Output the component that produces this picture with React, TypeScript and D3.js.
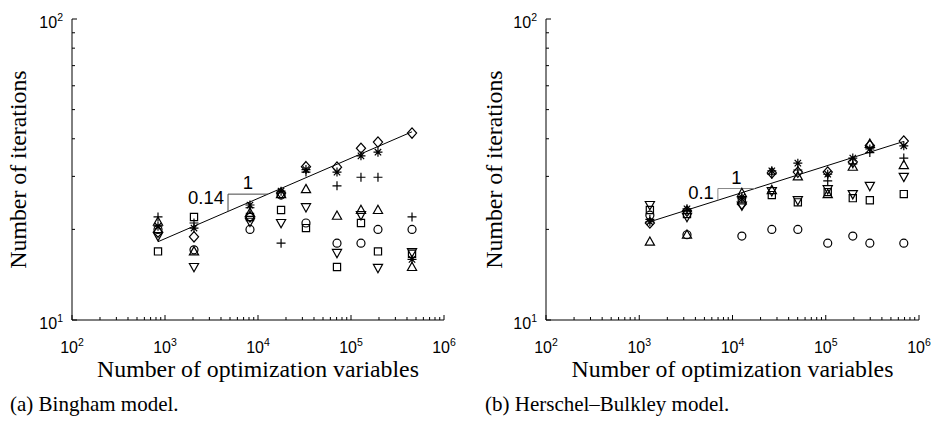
import React from 'react';
import * as d3 from 'd3';

// ---------- data ----------
const leftN = [841, 2050, 8200, 17700, 32800, 70700, 128000, 195000, 453000];
const leftPlus = [22.0, 21.0, 23.6, 18.0, 31.0, 27.9, 29.8, 29.8, 22.0];
const leftTriUp = [21.2, 16.9, 22.7, 26.2, 27.2, 22.2, 23.2, 23.2, 15.0];
const leftStar = [20.5, 20.2, 24.1, 26.8, 31.6, 31.0, 35.1, 36.1, 15.9];
const leftCircle = [20.0, 17.1, 20.0, 26.0, 21.0, 18.0, 18.0, 20.0, 20.0];
const leftDiamond = [19.6, 18.9, 22.0, 26.4, 32.3, 32.2, 37.2, 39.0, 41.8];
const leftTriDown = [19.0, 15.0, 21.2, 21.0, 23.7, 16.7, 22.3, 14.9, 16.8];
const leftSquare = [16.9, 22.0, 22.0, 23.2, 20.2, 15.0, 21.0, 16.9, 16.6];

const rightN = [1300, 3250, 12600, 26400, 50200, 105000, 195000, 297000, 687000];
const rightTriDown = [24.1, 22.0, 24.0, 26.8, 25.0, 27.2, 26.2, 27.9, 29.9];
const rightSquare = [23.2, 22.5, 25.0, 26.0, 24.6, 26.6, 25.4, 25.0, 26.2];
const rightCircle = [22.3, 19.2, 19.0, 20.0, 20.0, 18.0, 19.0, 18.0, 18.0];
const rightPlus = [21.6, 23.0, 25.4, 30.5, 31.5, 29.0, 33.0, 36.0, 34.5];
const rightStar = [21.2, 23.4, 25.6, 31.3, 33.2, 30.5, 34.5, 37.0, 37.9];
const rightDiamond = [21.0, 23.0, 24.3, 30.8, 31.0, 31.0, 33.5, 38.0, 39.3];
const rightTriUp = [18.2, 19.2, 26.4, 27.0, 30.0, 26.2, 32.3, 38.5, 32.7];

const leftFitN = [841, 453000];
const leftFitV = [18.2, 42.2];
const rightFitN = [1300, 687000];
const rightFitV = [21.2, 39.2];
const leftSlopeN = [4760, 12800];
const rightSlopeN = [6970, 17400];
const leftSlopeLabel = '0.14';
const rightSlopeLabel = '0.1';

const xTickExps = [2, 3, 4, 5, 6];
const yTickExps = [1, 2];
const yLabel = 'Number of iterations';
const xLabel = 'Number of optimization variables';
const leftCaption = '(a) Bingham model.';
const rightCaption = '(b) Herschel\u2013Bulkley model.';

// ---------- helpers ----------
const SANS = '"Liberation Sans", Arial, Helvetica, sans-serif';
const SERIF = '"Liberation Serif", "Times New Roman", Times, serif';

type Kind = 'circle' | 'square' | 'diamond' | 'triUp' | 'triDown' | 'plus' | 'star';

function markerPath(kind: Kind, x: number, y: number): string {
  const p = d3.path();
  if (kind === 'circle') {
    p.moveTo(x + 4, y);
    p.arc(x, y, 4, 0, Math.PI * 2);
  } else if (kind === 'square') {
    p.rect(x - 3.6, y - 3.6, 7.2, 7.2);
  } else if (kind === 'diamond') {
    p.moveTo(x, y - 5.2); p.lineTo(x + 4.6, y); p.lineTo(x, y + 5.2); p.lineTo(x - 4.6, y); p.closePath();
  } else if (kind === 'triUp') {
    p.moveTo(x, y - 4.8); p.lineTo(x + 4.6, y + 3.5); p.lineTo(x - 4.6, y + 3.5); p.closePath();
  } else if (kind === 'triDown') {
    p.moveTo(x, y + 4.8); p.lineTo(x + 4.6, y - 3.5); p.lineTo(x - 4.6, y - 3.5); p.closePath();
  } else if (kind === 'plus') {
    p.moveTo(x - 4.5, y); p.lineTo(x + 4.5, y); p.moveTo(x, y - 4.5); p.lineTo(x, y + 4.5);
  } else {
    const r = 4.5, d = 3.2;
    p.moveTo(x - r, y); p.lineTo(x + r, y); p.moveTo(x, y - r); p.lineTo(x, y + r);
    p.moveTo(x - d, y - d); p.lineTo(x + d, y + d); p.moveTo(x - d, y + d); p.lineTo(x + d, y - d);
  }
  return p.toString();
}

interface Series { kind: Kind; values: number[] }

interface PanelProps {
  xRange: [number, number];
  yRange: [number, number];
  ns: number[];
  series: Series[];
  fitN: number[];
  fitV: number[];
  slopeN: number[];
  slopeLabel: string;
  slopeColor: string;
  yLabelX: number;
  caption: string;
  captionX: number;
}

function Panel(props: PanelProps) {
  const { xRange, yRange, ns, series, fitN, fitV, slopeN, slopeLabel, slopeColor, yLabelX, caption, captionX } = props;
  const x = d3.scaleLog().domain([1e2, 1e6]).range(xRange);
  const y = d3.scaleLog().domain([10, 100]).range(yRange);
  const p = Math.log(fitV[1] / fitV[0]) / Math.log(fitN[1] / fitN[0]);
  const fit = (n: number) => fitV[0] * Math.pow(n / fitN[0], p);

  const xMinor: number[] = [];
  for (let e = 2; e < 6; e++) for (let k = 2; k <= 9; k++) xMinor.push(k * Math.pow(10, e));
  const yMinor: number[] = [];
  for (let k = 2; k <= 9; k++) yMinor.push(k * 10);

  const x0 = xRange[0], x1 = xRange[1], yb = yRange[0], yt = yRange[1];
  const hx0 = x(slopeN[0]), hx1 = x(slopeN[1]);
  const hy = y(fit(slopeN[1]));
  const vy = y(fit(slopeN[0]));
  const midX = (x0 + x1) / 2;

  return (
    <g>
      {/* axes */}
      <line x1={x0} y1={yt} x2={x0} y2={yb} stroke="#000" strokeWidth={1} />
      <line x1={x0} y1={yb} x2={x1} y2={yb} stroke="#000" strokeWidth={1} />
      {xTickExps.map(e => (
        <line key={'xt' + e} x1={x(Math.pow(10, e))} x2={x(Math.pow(10, e))} y1={yb} y2={yb - 5} stroke="#000" />
      ))}
      {xMinor.map(v => (
        <line key={'xm' + v} x1={x(v)} x2={x(v)} y1={yb} y2={yb - 3} stroke="#000" />
      ))}
      {yTickExps.map(e => (
        <line key={'yt' + e} x1={x0} x2={x0 + 5} y1={y(Math.pow(10, e))} y2={y(Math.pow(10, e))} stroke="#000" />
      ))}
      {yMinor.map(v => (
        <line key={'ym' + v} x1={x0} x2={x0 + 3} y1={y(v)} y2={y(v)} stroke="#000" />
      ))}
      {/* tick labels */}
      {xTickExps.map(e => (
        <text key={'xl' + e} x={x(Math.pow(10, e))} y={yb + 33} textAnchor="middle" fontFamily={SANS} fontSize={16}>
          10<tspan fontSize={10.5} dy={-7.5}>{e}</tspan>
        </text>
      ))}
      {yTickExps.map(e => (
        <text key={'yl' + e} x={x0 - 9} y={y(Math.pow(10, e)) + 9} textAnchor="end" fontFamily={SANS} fontSize={16}>
          10<tspan fontSize={10.5} dy={-7.5}>{e}</tspan>
        </text>
      ))}
      {/* fit line */}
      <line x1={x(fitN[0])} y1={y(fitV[0])} x2={x(fitN[1])} y2={y(fitV[1])} stroke="#000" strokeWidth={1} />
      {/* slope triangle */}
      <path d={`M${hx1},${hy}H${hx0}V${vy}`} fill="none" stroke={slopeColor} strokeWidth={1} />
      <text x={(hx0 + hx1) / 2} y={hy - 5} textAnchor="middle" fontFamily={SANS} fontSize={18.5}>1</text>
      <text x={hx0 - 4} y={hy + 10} textAnchor="end" fontFamily={SANS} fontSize={18.5}>{slopeLabel}</text>
      {/* markers */}
      {series.map(s => (
        <g key={s.kind}>
          {s.values.map((v, i) => (
            <path key={i} d={markerPath(s.kind, x(ns[i]), y(v))} fill="none" stroke="#000" strokeWidth={1.2} />
          ))}
        </g>
      ))}
      {/* labels */}
      <text x={midX} y={377} textAnchor="middle" fontFamily={SERIF} fontSize={23.8}>{xLabel}</text>
      <text transform={`translate(${yLabelX},${(yt + yb) / 2}) rotate(-90)`} textAnchor="middle" fontFamily={SERIF} fontSize={23.8}>{yLabel}</text>
      <text x={captionX} y={411} fontFamily={SERIF} fontSize={21}>{caption}</text>
    </g>
  );
}

export default function App() {
  const leftSeries: Series[] = [
    { kind: 'circle', values: leftCircle },
    { kind: 'square', values: leftSquare },
    { kind: 'triDown', values: leftTriDown },
    { kind: 'triUp', values: leftTriUp },
    { kind: 'plus', values: leftPlus },
    { kind: 'diamond', values: leftDiamond },
    { kind: 'star', values: leftStar },
  ];
  const rightSeries: Series[] = [
    { kind: 'circle', values: rightCircle },
    { kind: 'square', values: rightSquare },
    { kind: 'triDown', values: rightTriDown },
    { kind: 'triUp', values: rightTriUp },
    { kind: 'plus', values: rightPlus },
    { kind: 'diamond', values: rightDiamond },
    { kind: 'star', values: rightStar },
  ];
  return (
    <svg width={935} height={425} style={{ position: 'fixed', left: 0, top: 0, background: '#fff' }}>
      <rect width={935} height={425} fill="#fff" />
      <Panel xRange={[72, 444]} yRange={[320, 19]} ns={leftN} series={leftSeries}
        fitN={leftFitN} fitV={leftFitV} slopeN={leftSlopeN} slopeLabel={leftSlopeLabel} slopeColor="#444"
        yLabelX={26} caption={leftCaption} captionX={10} />
      <Panel xRange={[546, 919]} yRange={[320, 19]} ns={rightN} series={rightSeries}
        fitN={rightFitN} fitV={rightFitV} slopeN={rightSlopeN} slopeLabel={rightSlopeLabel} slopeColor="#888"
        yLabelX={502} caption={rightCaption} captionX={485} />
    </svg>
  );
}
